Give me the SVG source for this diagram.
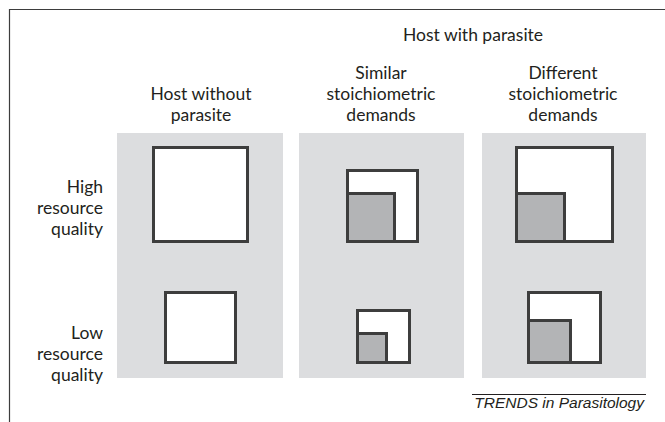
<svg xmlns="http://www.w3.org/2000/svg" width="665" height="422" viewBox="0 0 665 422">
<style>
.lbl{font-family:Lato,"Open Sans","Liberation Sans",sans-serif;font-size:17.5px;fill:#231f20}
.c{text-anchor:middle}
.r{text-anchor:end}
.panel{fill:#dcdddf}
.box{fill:#fff;stroke:#3d3d3d;stroke-width:3}
.par{fill:#b3b4b6;stroke:#3d3d3d;stroke-width:3}
.src{font-family:"Liberation Sans",sans-serif;font-size:15.5px;font-style:italic;fill:#231f20}
</style>
<rect width="665" height="422" fill="#fff"/>
<path d="M9.5 422 V9.5 H665" fill="none" stroke="#3d3d3d" stroke-width="1.2"/>
<g id="headers">
<text class="lbl c" x="473" y="41">Host with parasite</text>
<text class="lbl c" x="201" y="100">Host without</text>
<text class="lbl c" x="201" y="121">parasite</text>
<text class="lbl c" x="381" y="79">Similar</text>
<text class="lbl c" x="381" y="100">stoichiometric</text>
<text class="lbl c" x="381" y="121">demands</text>
<text class="lbl c" x="563" y="79">Different</text>
<text class="lbl c" x="563" y="100">stoichiometric</text>
<text class="lbl c" x="563" y="121">demands</text>
</g>
<g id="rows">
<text class="lbl r" x="103" y="193">High</text>
<text class="lbl r" x="103" y="214">resource</text>
<text class="lbl r" x="103" y="235">quality</text>
<text class="lbl r" x="103" y="339">Low</text>
<text class="lbl r" x="103" y="360">resource</text>
<text class="lbl r" x="103" y="381">quality</text>
</g>
<g id="panel-without">
<rect class="panel" x="117" y="133" width="166" height="245"/>
<rect class="box" x="153.5" y="147.5" width="94" height="94"/>
<rect class="box" x="165.5" y="292.5" width="70" height="70"/>
</g>
<g id="panel-similar">
<rect class="panel" x="299" y="133" width="165" height="245"/>
<rect class="box" x="347.5" y="170.5" width="70" height="71"/>
<rect class="par" x="347.5" y="193.5" width="47" height="48"/>
<rect class="box" x="357.5" y="310.5" width="52" height="52"/>
<rect class="par" x="357.5" y="333.5" width="29" height="29"/>
</g>
<g id="panel-different">
<rect class="panel" x="482" y="133" width="164" height="245"/>
<rect class="box" x="516.5" y="147.5" width="96" height="94"/>
<rect class="par" x="516.5" y="193.5" width="48" height="48"/>
<rect class="box" x="528.5" y="292.5" width="72" height="70"/>
<rect class="par" x="528.5" y="320.5" width="42" height="42"/>
</g>
<g id="credit">
<line x1="472" y1="394.5" x2="646" y2="394.5" stroke="#231f20" stroke-width="1"/>
<text class="src" x="644" y="408" text-anchor="end">TRENDS in Parasitology</text>
</g>
</svg>
